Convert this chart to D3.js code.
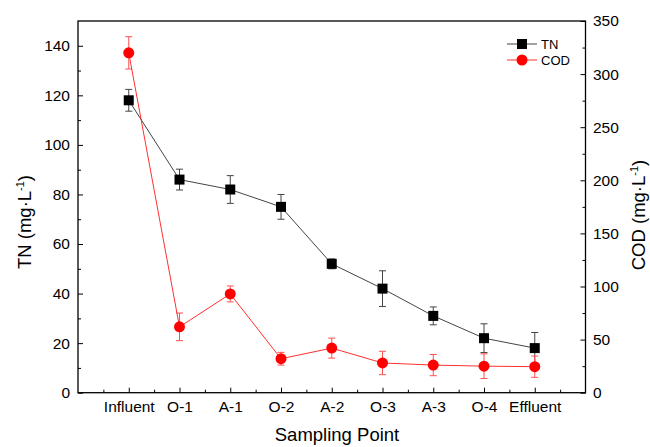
<!DOCTYPE html>
<html>
<head>
<meta charset="utf-8">
<script src="https://cdn.jsdelivr.net/npm/d3@7"></script>
<style>
  body { margin: 0; background: #fff; }
  text { font-family: "Liberation Sans", Arial, sans-serif; fill: #000; }
</style>
</head>
<body>
<script>
// ----- Data -----
const points = ["Influent", "O-1", "A-1", "O-2", "A-2", "O-3", "A-3", "O-4", "Effluent"];
const tnValues = [118, 86, 82, 75, 52, 42, 31, 22, 18];
const tnErrors = [4.4, 4.2, 5.6, 5, 2, 7.2, 3.6, 5.8, 6.3];
const codValues = [320, 62, 93, 32, 42, 28, 26, 25, 24.5];
const codErrors = [15.2, 13, 7.5, 6, 9.4, 11, 10, 11.6, 10];
const tnTicks = [0, 20, 40, 60, 80, 100, 120, 140];
const codTicks = [0, 50, 100, 150, 200, 250, 300, 350];

// ----- Layout -----
const W = 650, H = 447;
const PLOT_L = 78, PLOT_R = 585.5, PLOT_T = 21, PLOT_B = 392.7;
const TICK_FONT = "15.5px";
const TITLE_FONT = "18.5px";

const svg = d3.select("body").append("svg")
    .attr("width", W)
    .attr("height", H);

const x = d3.scaleLinear().domain([0, points.length + 1]).range([PLOT_L, PLOT_R]);
const yTN = d3.scaleLinear().domain([0, 150]).range([PLOT_B, PLOT_T]);
const yCOD = d3.scaleLinear().domain([0, 350]).range([PLOT_B, PLOT_T]);

// frame
svg.append("rect")
    .attr("x", PLOT_L).attr("y", PLOT_T)
    .attr("width", PLOT_R - PLOT_L).attr("height", PLOT_B - PLOT_T)
    .attr("fill", "none").attr("stroke", "#000").attr("stroke-width", 1.3);

// ----- Axes (ticks inward) -----
const axisStyle = g => {
    g.select(".domain").remove();
    g.selectAll("text").style("font-size", TICK_FONT).style("font-family", "Liberation Sans, Arial, sans-serif");
    g.selectAll("line").attr("stroke", "#000");
};

// bottom
const xMajor = points.map((d, i) => i + 1);
const xMinor = d3.range(0.5, points.length + 1, 1);
svg.append("g")
    .attr("transform", `translate(0,${PLOT_B})`)
    .call(d3.axisBottom(x).tickValues(xMinor).tickSize(-3).tickFormat(""))
    .call(axisStyle);
svg.append("g")
    .attr("transform", `translate(0,${PLOT_B})`)
    .call(d3.axisBottom(x).tickValues(xMajor).tickSize(-5).tickPadding(8)
        .tickFormat((d, i) => points[i]))
    .call(axisStyle);

// left
svg.append("g")
    .attr("transform", `translate(${PLOT_L},0)`)
    .call(d3.axisLeft(yTN).tickValues(d3.range(10, 150, 20)).tickSize(-3).tickFormat(""))
    .call(axisStyle);
svg.append("g")
    .attr("transform", `translate(${PLOT_L},0)`)
    .call(d3.axisLeft(yTN).tickValues(tnTicks).tickSize(-5).tickPadding(8))
    .call(axisStyle);

// right
svg.append("g")
    .attr("transform", `translate(${PLOT_R},0)`)
    .call(d3.axisRight(yCOD).tickValues(d3.range(25, 350, 50)).tickSize(-3).tickFormat(""))
    .call(axisStyle);
svg.append("g")
    .attr("transform", `translate(${PLOT_R},0)`)
    .call(d3.axisRight(yCOD).tickValues(codTicks).tickSize(-5).tickPadding(7.5))
    .call(axisStyle);

// ----- Axis titles -----
svg.append("text")
    .attr("x", 337).attr("y", 441)
    .attr("text-anchor", "middle")
    .style("font-size", TITLE_FONT)
    .text("Sampling Point");

const yTitle = (tx, ty, label) => {
    const t = svg.append("text")
        .attr("transform", `translate(${tx},${ty}) rotate(-90)`)
        .attr("text-anchor", "middle")
        .style("font-size", TITLE_FONT);
    t.append("tspan").text(label + " (mg·L");
    t.append("tspan").attr("dy", -7).style("font-size", "11px").text("-1");
    t.append("tspan").attr("dy", 7).text(")");
};
yTitle(31, 222, "TN");
yTitle(645, 215, "COD");

// ----- Series -----
function drawSeries(values, errors, y, lineColor, errColor, markerColor, shape) {
    const g = svg.append("g");
    g.selectAll(".err")
        .data(values)
        .enter()
        .append("g")
        .each(function(d, i) {
            const cx = x(i + 1);
            const e = d3.select(this);
            e.append("line")
                .attr("x1", cx).attr("x2", cx)
                .attr("y1", y(d - errors[i])).attr("y2", y(d + errors[i]))
                .attr("stroke", errColor);
            [d - errors[i], d + errors[i]].forEach(v => {
                e.append("line")
                    .attr("x1", cx - 3.5).attr("x2", cx + 3.5)
                    .attr("y1", y(v)).attr("y2", y(v))
                    .attr("stroke", errColor);
            });
        });
    g.append("path")
        .datum(values)
        .attr("fill", "none")
        .attr("stroke", lineColor)
        .attr("stroke-width", 1)
        .attr("d", d3.line().x((d, i) => x(i + 1)).y(d => y(d)));
    if (shape === "square") {
        g.selectAll("rect")
            .data(values)
            .enter()
            .append("rect")
            .attr("x", (d, i) => x(i + 1) - 5)
            .attr("y", d => y(d) - 5)
            .attr("width", 10).attr("height", 10)
            .attr("fill", markerColor);
    } else {
        g.selectAll("circle")
            .data(values)
            .enter()
            .append("circle")
            .attr("cx", (d, i) => x(i + 1))
            .attr("cy", d => y(d))
            .attr("r", 5.5)
            .attr("fill", markerColor);
    }
}

drawSeries(tnValues, tnErrors, yTN, "#444", "#444", "#000", "square");
drawSeries(codValues, codErrors, yCOD, "#ff3030", "#ff5050", "#ff0000", "circle");

// ----- Legend -----
const legendItems = [
    { label: "TN", line: "#444", fill: "#000", shape: "square" },
    { label: "COD", line: "#ff3030", fill: "#ff0000", shape: "circle" }
];
const legend = svg.append("g").attr("transform", "translate(507,44)");
legendItems.forEach((d, i) => {
    const row = legend.append("g").attr("transform", `translate(0,${i * 16})`);
    row.append("line").attr("x1", 0).attr("x2", 30).attr("y1", 0).attr("y2", 0)
        .attr("stroke", d.line);
    if (d.shape === "square")
        row.append("rect").attr("x", 10).attr("y", -5).attr("width", 10).attr("height", 10).attr("fill", d.fill);
    else
        row.append("circle").attr("cx", 15).attr("cy", 0).attr("r", 5.5).attr("fill", d.fill);
    row.append("text").attr("x", 34).attr("y", 5).style("font-size", "13px").text(d.label);
});
</script>
</body>
</html>
